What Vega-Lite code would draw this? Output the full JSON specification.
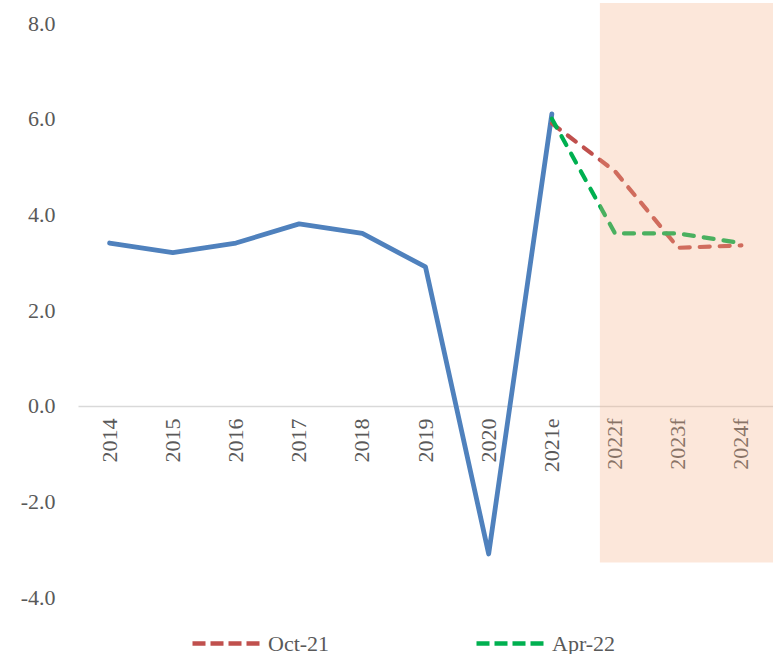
{
  "$schema": "https://vega.github.io/schema/vega-lite/v6.json",
  "width": 695,
  "height": 574,
  "autosize": {"type": "none"},
  "padding": {"left": 78, "top": 23, "right": 0, "bottom": 57},
  "background": "white",
  "config": {"view": {"stroke": null}, "font": "Liberation Serif"},
  "datasets": {
    "actual": [
      {"year": "2014", "value": 3.4},
      {"year": "2015", "value": 3.2},
      {"year": "2016", "value": 3.4},
      {"year": "2017", "value": 3.8},
      {"year": "2018", "value": 3.6},
      {"year": "2019", "value": 2.9},
      {"year": "2020", "value": -3.1},
      {"year": "2021e", "value": 6.1}
    ],
    "forecast": [
      {"year": "2021e", "value": 5.9, "series": "Oct-21"},
      {"year": "2022f", "value": 4.9, "series": "Oct-21"},
      {"year": "2023f", "value": 3.3, "series": "Oct-21"},
      {"year": "2024f", "value": 3.35, "series": "Oct-21"},
      {"year": "2021e", "value": 6.0, "series": "Apr-22"},
      {"year": "2022f", "value": 3.6, "series": "Apr-22"},
      {"year": "2023f", "value": 3.6, "series": "Apr-22"},
      {"year": "2024f", "value": 3.4, "series": "Apr-22"}
    ],
    "shade": [{"start": "2022f", "end": "2024f", "top": 8.42, "bottom": -3.28}]
  },
  "layer": [
    {
      "data": {"name": "actual"},
      "mark": {"type": "line", "color": "#4F81BD", "strokeWidth": 4.8, "strokeJoin": "round", "strokeCap": "round"},
      "encoding": {
        "x": {
          "field": "year", "type": "ordinal",
          "scale": {"type": "band", "domain": ["2014","2015","2016","2017","2018","2019","2020","2021e","2022f","2023f","2024f"], "paddingInner": 0, "paddingOuter": 0},
          "axis": {"title": null, "labelAngle": -90, "offset": -191, "domainColor": "#D9D9D9", "domainWidth": 1.5, "ticks": false, "labelPadding": 12, "labelFontSize": 22, "labelColor": "#595959", "labelFont": "Liberation Serif"}
        },
        "y": {
          "field": "value", "type": "quantitative",
          "scale": {"domain": [-4, 8], "nice": false, "zero": false},
          "axis": {"title": null, "values": [-4, -2, 0, 2, 4, 6, 8], "labelExpr": "replace(format(datum.value, '.1f'), '\u2212', '-')", "domain": false, "ticks": false, "grid": false, "labelPadding": 23, "labelFontSize": 22, "labelColor": "#595959", "labelFont": "Liberation Serif"}
        }
      }
    },
    {
      "data": {"name": "forecast"},
      "mark": {"type": "line", "strokeWidth": 4.2, "strokeDash": [10, 10], "strokeCap": "round", "strokeJoin": "round"},
      "encoding": {
        "x": {"field": "year", "type": "ordinal"},
        "y": {"field": "value", "type": "quantitative"},
        "color": {
          "field": "series", "type": "nominal",
          "scale": {"domain": ["Oct-21", "Apr-22"], "range": ["#C0504D", "#00B050"]},
          "legend": {"title": null, "orient": "none", "legendX": 137.5, "legendY": 609.5, "direction": "horizontal", "symbolType": "M-4,0H4", "symbolSize": 289, "symbolStrokeWidth": 4.5, "symbolDash": [13, 5], "labelFontSize": 22, "labelColor": "#595959", "labelFont": "Liberation Serif", "labelOffset": 30.5, "columnPadding": 138}
        },
        "order": {"field": "series", "sort": "descending"}
      }
    },
    {
      "data": {"name": "shade"},
      "mark": {"type": "rect", "color": "#F4B183", "opacity": 0.3},
      "encoding": {
        "x": {"field": "start", "type": "ordinal", "bandPosition": 0.26},
        "x2": {"field": "end", "bandPosition": 1},
        "y": {"field": "top", "type": "quantitative"},
        "y2": {"field": "bottom"}
      }
    }
  ]
}
